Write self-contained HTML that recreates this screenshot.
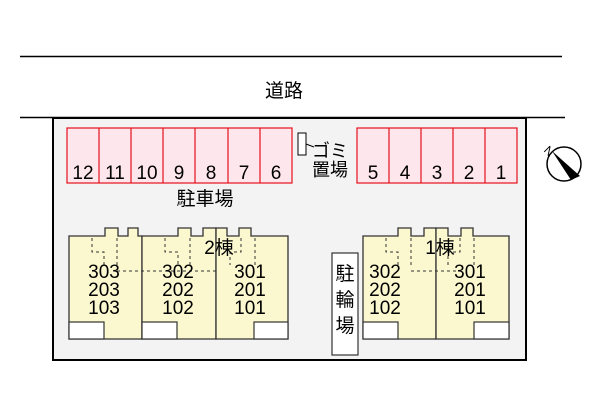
<!DOCTYPE html><html><head><meta charset="utf-8"><style>body{margin:0;background:#fff}svg{display:block}text{font-family:"Liberation Sans","Noto Sans CJK JP",sans-serif;fill:#000}</style></head><body>
<svg width="600" height="400" viewBox="0 0 600 400">
<line x1="20" y1="56.5" x2="562" y2="56.5" stroke="#000" stroke-width="1.5"/>
<line x1="20" y1="117.5" x2="565" y2="117.5" stroke="#000" stroke-width="1.5"/>
<text x="284" y="97" font-size="19" text-anchor="middle">道路</text>
<rect x="53" y="118" width="473" height="242" fill="#f3f3f3" stroke="#000" stroke-width="2"/>
<g fill="#fde6ec" stroke="#e8101c" stroke-width="1.2">
<rect x="67" y="128" width="225" height="55"/>
<rect x="357" y="128" width="160" height="55"/>
</g>
<g stroke="#e8101c" stroke-width="1.2">
<line x1="99" y1="128" x2="99" y2="183"/><line x1="131" y1="128" x2="131" y2="183"/><line x1="163" y1="128" x2="163" y2="183"/><line x1="195" y1="128" x2="195" y2="183"/><line x1="228" y1="128" x2="228" y2="183"/><line x1="260" y1="128" x2="260" y2="183"/>
<line x1="389" y1="128" x2="389" y2="183"/><line x1="421" y1="128" x2="421" y2="183"/><line x1="453" y1="128" x2="453" y2="183"/><line x1="485" y1="128" x2="485" y2="183"/>
</g>
<g font-size="19" text-anchor="middle">
<text x="83" y="179">12</text><text x="115" y="179">11</text><text x="147" y="179">10</text><text x="179" y="179">9</text><text x="211" y="179">8</text><text x="244" y="179">7</text><text x="276" y="179">6</text>
<text x="373" y="179">5</text><text x="405" y="179">4</text><text x="437" y="179">3</text><text x="469" y="179">2</text><text x="501" y="179">1</text>
</g>
<rect x="298" y="133" width="8" height="22" fill="#fff" stroke="#000"/>
<line x1="306" y1="144" x2="314" y2="147" stroke="#000"/>
<text x="312" y="157" font-size="18">ゴミ</text>
<text x="312" y="176" font-size="18">置場</text>
<text x="205" y="205" font-size="19" text-anchor="middle">駐車場</text>
<g fill="#fbf8cf" stroke="#333" stroke-width="1.3">
<path d="M69 236 H105 V228 H118 V236 H128 V228 H138 V236 H142 V339 H69 Z"/>
<path d="M142 236 H178 V228 H191 V236 H203 V228 H216 V339 H142 Z"/>
<path d="M216 228 H227 V236 H239 V228 H251 V236 H288 V339 H216 Z"/>
<path d="M363 236 H398 V228 H411 V236 H424 V228 H436 V339 H363 Z"/>
<path d="M436 228 H448 V236 H461 V228 H473 V236 H509 V339 H436 Z"/>
</g>
<g fill="#fff" stroke="#333" stroke-width="1.2">
<rect x="69" y="322" width="35" height="17"/><rect x="142" y="322" width="35" height="17"/><rect x="254" y="322" width="34" height="17"/>
<rect x="363" y="322" width="35" height="17"/><rect x="474" y="322" width="35" height="17"/>
<rect x="332" y="253" width="26" height="102"/>
</g>
<g stroke="#333" stroke-width="1" stroke-dasharray="3,3" fill="none">
<path d="M92 238 V252 H104 V265"/><path d="M117 238 V265"/><path d="M117 271 H142 H186 H218"/>
<path d="M165 238 V252 H178 V265"/><path d="M190 238 V265"/>
<path d="M241 238 V252 H230 V265"/><path d="M255 238 V265"/>
<path d="M386 238 V252 H398 V265"/><path d="M411 238 V265"/><path d="M411 271 H460"/>
<path d="M460 238 V252 H448 V265"/><path d="M474 238 V265"/>
</g>
<g font-size="19" text-anchor="middle">
<text x="104" y="278">303</text><text x="104" y="296">203</text><text x="104" y="314">103</text>
<text x="178" y="278">302</text><text x="178" y="296">202</text><text x="178" y="314">102</text>
<text x="250" y="278">301</text><text x="250" y="296">201</text><text x="250" y="314">101</text>
<text x="385" y="278">302</text><text x="385" y="296">202</text><text x="385" y="314">102</text>
<text x="470" y="278">301</text><text x="470" y="296">201</text><text x="470" y="314">101</text>
<text x="219" y="254">2棟</text><text x="440" y="254">1棟</text>
<text x="345" y="280">駐</text><text x="345" y="306">輪</text><text x="345" y="332">場</text>
</g>
<circle cx="564" cy="164" r="17" fill="#fff" stroke="#000" stroke-width="1.5"/>
<path d="M552 151 L580 176 L571 180 Z" fill="#000"/>
<text x="546" y="152" font-size="12" transform="rotate(45 546 148)">N</text>
</svg></body></html>
